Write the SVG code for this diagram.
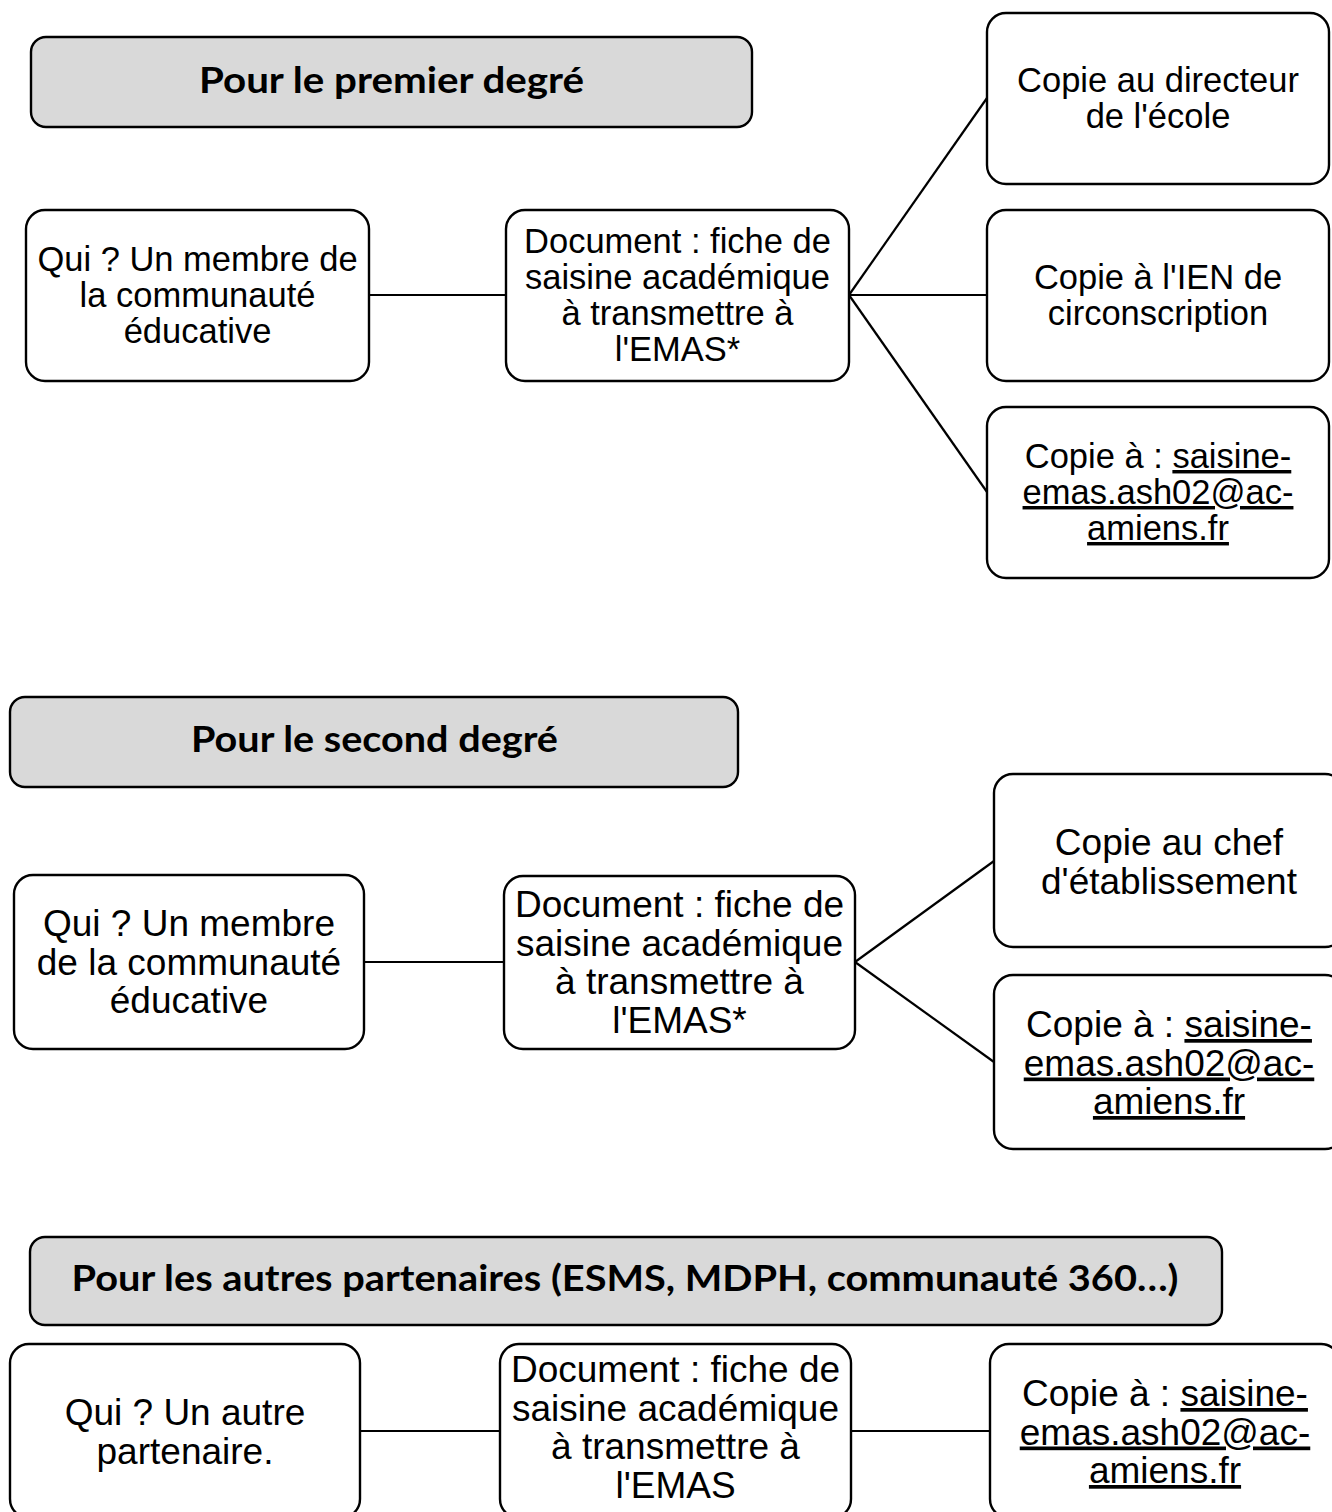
<svg xmlns="http://www.w3.org/2000/svg" width="1332" height="1512" viewBox="0 0 1332 1512">
<style>
  .hdr { fill: #d9d9d9; stroke: #000; stroke-width: 2.4; }
  .box { fill: #fff; stroke: #000; stroke-width: 2.4; }
  .ht { font-family: Lato, "Open Sans", sans-serif; font-weight: 700; font-size: 37px; fill: #000; text-anchor: middle; }
  .t1 { font-family: "Liberation Sans", Arial, sans-serif; font-size: 34.5px; fill: #000; text-anchor: middle; }
  .t2 { font-family: "Liberation Sans", Arial, sans-serif; font-size: 37px; fill: #000; text-anchor: middle; }
  .u { text-decoration: underline; }
  .con { stroke: #000; stroke-width: 2.2; fill: none; }
</style>
<rect width="1332" height="1512" fill="#fff"/>

<g id="connectors">
  <line class="con" x1="369" y1="295" x2="506" y2="295"/>
  <line class="con" x1="849" y1="295" x2="987" y2="98"/>
  <line class="con" x1="849" y1="295" x2="987" y2="295"/>
  <line class="con" x1="849" y1="295" x2="987" y2="492"/>
  <line class="con" x1="364" y1="962" x2="504" y2="962"/>
  <line class="con" x1="855" y1="962" x2="994" y2="861"/>
  <line class="con" x1="855" y1="962" x2="994" y2="1062"/>
  <line class="con" x1="360" y1="1431" x2="500" y2="1431"/>
  <line class="con" x1="851" y1="1431" x2="990" y2="1431"/>
</g>

<g id="header1">
  <rect class="hdr" x="31" y="37" width="721" height="90" rx="15"/>
  <text class="ht" x="391.5" y="93" textLength="385" lengthAdjust="spacingAndGlyphs">Pour le premier degré</text>
</g>
<g id="qui1">
  <rect class="box" x="26" y="210" width="343" height="171" rx="19"/>
  <text class="t1" x="197.5" y="271">Qui ? Un membre de</text>
  <text class="t1" x="197.5" y="307">la communauté</text>
  <text class="t1" x="197.5" y="343">éducative</text>
</g>
<g id="doc1">
  <rect class="box" x="506" y="210" width="343" height="171" rx="19"/>
  <text class="t1" x="677.5" y="253">Document : fiche de</text>
  <text class="t1" x="677.5" y="289">saisine académique</text>
  <text class="t1" x="677.5" y="325">à transmettre à</text>
  <text class="t1" x="677.5" y="361">l'EMAS*</text>
</g>
<g id="copie1a">
  <rect class="box" x="987" y="13" width="342" height="171" rx="19"/>
  <text class="t1" x="1158" y="92">Copie au directeur</text>
  <text class="t1" x="1158" y="128">de l'école</text>
</g>
<g id="copie1b">
  <rect class="box" x="987" y="210" width="342" height="171" rx="19"/>
  <text class="t1" x="1158" y="289">Copie à l'IEN de</text>
  <text class="t1" x="1158" y="325">circonscription</text>
</g>
<g id="copie1c">
  <rect class="box" x="987" y="407" width="342" height="171" rx="19"/>
  <text class="t1" x="1158" y="468">Copie à : <tspan class="u">saisine-</tspan></text>
  <text class="t1" x="1158" y="504"><tspan class="u">emas.ash02@ac-</tspan></text>
  <text class="t1" x="1158" y="540"><tspan class="u">amiens.fr</tspan></text>
</g>

<g id="header2">
  <rect class="hdr" x="10" y="697" width="728" height="90" rx="15"/>
  <text class="ht" x="374.5" y="752" textLength="367" lengthAdjust="spacingAndGlyphs">Pour le second degré</text>
</g>
<g id="qui2">
  <rect class="box" x="14" y="875" width="350" height="174" rx="19"/>
  <text class="t2" x="189" y="936">Qui ? Un membre</text>
  <text class="t2" x="189" y="974.5">de la communauté</text>
  <text class="t2" x="189" y="1013">éducative</text>
</g>
<g id="doc2">
  <rect class="box" x="504" y="876" width="351" height="173" rx="19"/>
  <text class="t2" x="679.5" y="917">Document : fiche de</text>
  <text class="t2" x="679.5" y="955.5">saisine académique</text>
  <text class="t2" x="679.5" y="994">à transmettre à</text>
  <text class="t2" x="679.5" y="1032.5">l'EMAS*</text>
</g>
<g id="copie2a">
  <rect class="box" x="994" y="774" width="350" height="173" rx="19"/>
  <text class="t2" x="1169" y="855">Copie au chef</text>
  <text class="t2" x="1169" y="893.5">d'établissement</text>
</g>
<g id="copie2b">
  <rect class="box" x="994" y="975" width="350" height="174" rx="19"/>
  <text class="t2" x="1169" y="1037">Copie à : <tspan class="u">saisine-</tspan></text>
  <text class="t2" x="1169" y="1075.5"><tspan class="u">emas.ash02@ac-</tspan></text>
  <text class="t2" x="1169" y="1114"><tspan class="u">amiens.fr</tspan></text>
</g>

<g id="header3">
  <rect class="hdr" x="30" y="1237" width="1192" height="88" rx="15"/>
  <text class="ht" x="625" y="1291" textLength="1107" lengthAdjust="spacingAndGlyphs">Pour les autres partenaires (ESMS, MDPH, communauté 360…)</text>
</g>
<g id="qui3">
  <rect class="box" x="10" y="1344" width="350" height="174" rx="19"/>
  <text class="t2" x="185" y="1425">Qui ? Un autre</text>
  <text class="t2" x="185" y="1463.5">partenaire.</text>
</g>
<g id="doc3">
  <rect class="box" x="500" y="1344" width="351" height="174" rx="19"/>
  <text class="t2" x="675.5" y="1382">Document : fiche de</text>
  <text class="t2" x="675.5" y="1420.5">saisine académique</text>
  <text class="t2" x="675.5" y="1459">à transmettre à</text>
  <text class="t2" x="675.5" y="1497.5">l'EMAS</text>
</g>
<g id="copie3">
  <rect class="box" x="990" y="1344" width="350" height="174" rx="19"/>
  <text class="t2" x="1165" y="1406">Copie à : <tspan class="u">saisine-</tspan></text>
  <text class="t2" x="1165" y="1444.5"><tspan class="u">emas.ash02@ac-</tspan></text>
  <text class="t2" x="1165" y="1483"><tspan class="u">amiens.fr</tspan></text>
</g>
</svg>
